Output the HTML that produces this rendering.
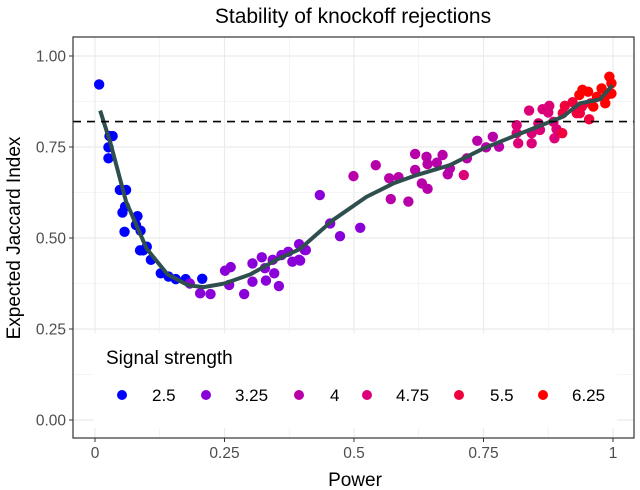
<!DOCTYPE html>
<html><head><meta charset="utf-8"><style>
body{margin:0;background:#fff}
svg{display:block;font-family:"Liberation Sans",sans-serif}
</style></head><body>
<svg id="c" width="640" height="490">
<text x="353" y="23" font-size="21" text-anchor="middle" fill="#000">Stability of knockoff rejections</text>
<text x="355" y="486" font-size="19" text-anchor="middle">Power</text>
<text transform="translate(20,238) rotate(-90)" font-size="19" text-anchor="middle">Expected Jaccard Index</text>
<g id="grid"></g><g id="marks"></g><g id="legend"></g>
<rect x="73" y="37" width="561" height="401" fill="none" stroke="#333" stroke-width="1.2"/>
</svg>
<script>
const px = [0.008,0.028,0.034,0.026,0.026,0.048,0.06,0.058,0.053,0.082,0.079,0.088,0.057,0.1,0.087,0.093,0.108,0.127,0.142,0.156,0.175,0.207,
0.183,0.203,0.223,0.251,0.262,0.259,0.288,0.304,0.304,0.322,0.328,0.33,0.343,0.346,0.355,0.36,0.373,0.381,0.394,0.394,0.407,0.434,0.405,0.396,0.454,0.473,0.512,
0.499,0.542,0.568,0.571,0.586,0.605,0.618,0.618,0.631,0.64,0.642,0.642,0.66,0.671,0.681,0.685,0.718,0.738,0.755,0.768,0.78,
0.712,0.814,0.814,0.817,0.838,0.843,0.843,0.856,0.859,0.864,0.877,0.875,0.885,0.891,0.887,
0.902,0.903,0.907,0.922,0.93,0.936,0.94,0.954,0.957,
0.941,0.935,0.952,0.962,0.978,0.985,0.993,0.997,0.997,0.988,0.969];
const py = [0.922,0.78,0.78,0.749,0.719,0.632,0.632,0.586,0.57,0.56,0.536,0.52,0.517,0.476,0.466,0.466,0.44,0.403,0.394,0.387,0.387,0.388,
0.375,0.348,0.346,0.41,0.42,0.371,0.346,0.43,0.38,0.447,0.417,0.383,0.44,0.403,0.368,0.453,0.462,0.435,0.483,0.44,0.467,0.618,0.467,0.438,0.54,0.505,0.528,
0.67,0.70,0.664,0.607,0.667,0.60,0.731,0.687,0.65,0.723,0.703,0.635,0.707,0.728,0.675,0.691,0.719,0.767,0.749,0.778,0.751,
0.673,0.81,0.788,0.76,0.85,0.788,0.76,0.815,0.797,0.854,0.863,0.845,0.819,0.799,0.774,
0.788,0.843,0.863,0.873,0.843,0.843,0.861,0.826,0.87,
0.907,0.893,0.902,0.861,0.911,0.87,0.943,0.925,0.897,0.893,0.888];
const sig = [2.5,2.5,2.5,2.5,2.5,2.5,2.5,2.5,2.5,2.5,2.5,2.5,2.5,2.5,2.5,2.5,2.5,2.5,2.5,2.5,2.5,2.5,
3.25,3.25,3.25,3.25,3.25,3.25,3.25,3.25,3.25,3.25,3.25,3.25,3.25,3.25,3.25,3.25,3.25,3.25,3.25,3.25,3.25,3.25,3.25,3.25,3.25,3.25,3.25,
4,4,4,4,4,4,4,4,4,4,4,4,4,4,4,4,4,4,4,4,4,
4.75,4.75,4.75,4.75,4.75,4.75,4.75,4.75,4.75,4.75,4.75,4.75,4.75,4.75,4.75,
5.5,5.5,5.5,5.5,5.5,5.5,5.5,5.5,5.5,
6.25,6.25,6.25,6.25,6.25,6.25,6.25,6.25,6.25,6.25,6.25];
const levels = [2.5,3.25,4,4.75,5.5,6.25];
const levelColors = ["#0000ff","#8a00d8","#b800a8","#dc0078","#f0003c","#ff0000"];
const curveX = [0.01,0.03,0.06,0.1,0.14,0.18,0.21,0.25,0.3,0.35,0.396,0.46,0.524,0.576,0.621,0.685,0.75,0.814,0.878,0.903,0.936,0.975,0.999];
const curveY = [0.85,0.76,0.6,0.47,0.4,0.37,0.365,0.375,0.40,0.44,0.47,0.55,0.613,0.65,0.673,0.70,0.746,0.783,0.819,0.833,0.87,0.881,0.92];
const xTicks = [0,0.25,0.5,0.75,1], xTickLabels = ["0","0.25","0.5","0.75","1"];
const yTicks = [0,0.25,0.5,0.75,1], yTickLabels = ["0.00","0.25","0.50","0.75","1.00"];
const hline = 0.82;

const X = v => 95 + v*518, Y = v => 420 - v*364;
const NS="http://www.w3.org/2000/svg";
function mk(tag, attrs, parent){const e=document.createElementNS(NS,tag);for(const k in attrs)e.setAttribute(k,attrs[k]);parent.appendChild(e);return e;}
const svg=document.getElementById('c'), grid=document.getElementById('grid'), marks=document.getElementById('marks'), leg=document.getElementById('legend');
mk('rect',{x:73,y:37,width:561,height:401,fill:'#fff'},grid);
for(let i=0;i<=8;i++){const v=i/8, w=i%2?0.6:1.2;
  const l1=mk('line',{x1:X(v),x2:X(v),y1:37,y2:438,stroke:'#ebebeb','stroke-width':w},grid);
  
  
  const l2=mk('line',{x1:73,x2:634,y1:Y(v),y2:Y(v),stroke:'#ebebeb','stroke-width':w},grid);
  
  
}
xTicks.forEach((v,i)=>{
  mk('line',{x1:X(v),x2:X(v),y1:438,y2:442,stroke:'#333'},svg);
  const t=mk('text',{x:X(v),y:458,'font-size':15.5,'text-anchor':'middle',fill:'#4d4d4d'},svg);t.textContent=xTickLabels[i];
  
  
});
yTicks.forEach((v,i)=>{
  mk('line',{x1:69,x2:73,y1:Y(v),y2:Y(v),stroke:'#333'},svg);
  const t=mk('text',{x:66,y:Y(v)+5.5,'font-size':15.5,'text-anchor':'end',fill:'#4d4d4d'},svg);t.textContent=yTickLabels[i];
  
  
});
px.forEach((v,i)=>{
  const c=mk('circle',{cx:X(v),cy:Y(py[i]),r:5.2,fill:levelColors[levels.indexOf(sig[i])]},marks);
  
  
});
const p=mk('path',{d:curveX.map((v,i)=>(i?'L':'M')+X(v)+','+Y(curveY[i])).join(''),fill:'none',stroke:'#2f4f4f','stroke-width':4,'stroke-linejoin':'round'},marks);


const h=mk('line',{x1:73,x2:634,y1:Y(hline),y2:Y(hline),stroke:'#000','stroke-width':1.6,'stroke-dasharray':'8,6'},marks);


const lb=mk('rect',{x:94,y:333,width:523,height:95,fill:'#fff'},leg);


const lt=mk('text',{x:106,y:364,'font-size':19},leg);lt.textContent='Signal strength';


const dotX=[122,206,299,367,459,543], labX=[152,235,330,396,490,572];
levels.forEach((v,i)=>{
  const c=mk('circle',{cx:dotX[i],cy:395,r:5,fill:levelColors[i]},leg);
  
  
  const t=mk('text',{x:labX[i],y:401,'font-size':17},leg);t.textContent=String(v);
  
  
});
</script>
</body></html>
